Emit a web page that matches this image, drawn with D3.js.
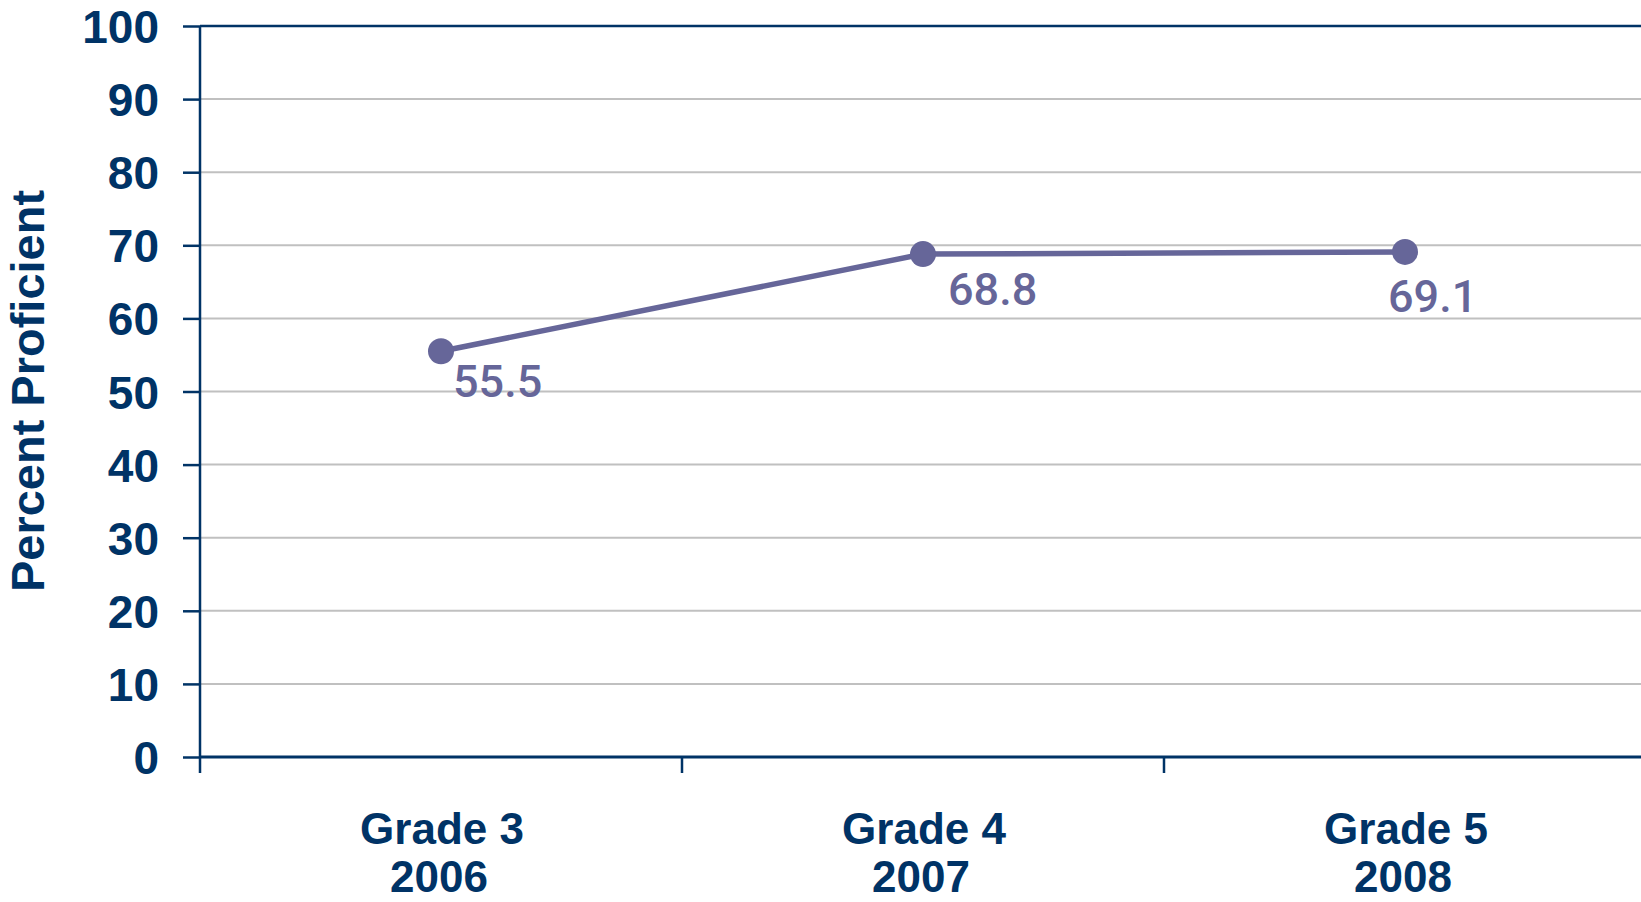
<!DOCTYPE html>
<html>
<head>
<meta charset="utf-8">
<script src="https://cdn.jsdelivr.net/npm/d3@7"></script>
<style>
  html, body { margin: 0; padding: 0; background: #fff; }
  svg { display: block; }
</style>
</head>
<body>
<svg id="chart" width="1641" height="902"></svg>
<script>
// ---- data ----
const gradeLabels = ["Grade 3", "Grade 4", "Grade 5"];
const yearLabels = ["2006", "2007", "2008"];
const values = [55.5, 68.8, 69.1];
const yTicks = [0, 10, 20, 30, 40, 50, 60, 70, 80, 90, 100];
const yTitle = "Percent Proficient";
// label nudges (px) relative to each point
const labelDx = [12, 25, -17];
const labelDy = [46, 51, 60];

// ---- styles ----
const navy = "#003366";
const lineColor = "#666699";
const gridColor = "#c0c0c0";

const svg = d3.select("#chart");
const plotLeft = 200, plotRight = 1646, plotTop = 26, plotBottom = 757;

const x = d3.scaleBand().domain(gradeLabels).range([plotLeft, plotRight]).paddingInner(0).paddingOuter(0);
const y = d3.scaleLinear().domain([0, 100]).range([plotBottom, plotTop]);

// gridlines
svg.append("g").selectAll("line").data(yTicks.filter(d => d > 0 && d < 100)).join("line")
  .attr("x1", plotLeft).attr("x2", 1641)
  .attr("y1", d => y(d)).attr("y2", d => y(d))
  .attr("stroke", gridColor).attr("stroke-width", 2);

// top border
svg.append("line").attr("x1", plotLeft).attr("x2", 1641).attr("y1", y(100)).attr("y2", y(100))
  .attr("stroke", navy).attr("stroke-width", 2.5);

// y axis
const yAxis = d3.axisLeft(y).tickValues(yTicks).tickSize(17).tickPadding(24).tickFormat(d3.format("d"));
const gy = svg.append("g").attr("transform", `translate(${plotLeft},0)`).call(yAxis);
gy.select(".domain").remove();
gy.selectAll(".tick line").attr("stroke", navy).attr("stroke-width", 2.5);
gy.selectAll(".tick text")
  .attr("fill", navy)
  .attr("font-family", "'Liberation Sans', Arial, sans-serif")
  .attr("font-weight", "bold")
  .attr("font-size", 46)
  .attr("dy", "0.36em");
svg.append("line").attr("x1", plotLeft).attr("x2", plotLeft).attr("y1", plotTop).attr("y2", plotBottom + 16)
  .attr("stroke", navy).attr("stroke-width", 2.5);

// x axis
svg.append("line").attr("x1", plotLeft).attr("x2", 1641).attr("y1", plotBottom).attr("y2", plotBottom)
  .attr("stroke", navy).attr("stroke-width", 3);
svg.append("g").selectAll("line").data(gradeLabels.slice(1)).join("line")
  .attr("x1", d => x(d)).attr("x2", d => x(d))
  .attr("y1", plotBottom).attr("y2", plotBottom + 16)
  .attr("stroke", navy).attr("stroke-width", 2.5);

const xFont = (sel) => sel
  .attr("text-anchor", "middle")
  .attr("fill", navy)
  .attr("font-family", "'Liberation Sans', Arial, sans-serif")
  .attr("font-weight", "bold")
  .attr("font-size", 44);

svg.append("g").selectAll("text").data(gradeLabels).join("text")
  .attr("x", d => x(d) + x.bandwidth() / 2 + 1)
  .attr("y", 844)
  .call(xFont)
  .text(d => d);

svg.append("g").selectAll("text").data(gradeLabels).join("text")
  .attr("x", d => x(d) + x.bandwidth() / 2 - 2)
  .attr("y", 892)
  .call(xFont)
  .text((d, i) => yearLabels[i]);

// y title
svg.append("text")
  .attr("transform", `translate(44,391) rotate(-90)`)
  .attr("text-anchor", "middle")
  .attr("fill", navy)
  .attr("font-family", "'Liberation Sans', Arial, sans-serif")
  .attr("font-weight", "bold")
  .attr("font-size", 47)
  .text(yTitle);

// line
const cx = (d, i) => x(gradeLabels[i]) + x.bandwidth() / 2;
const line = d3.line().x((d, i) => cx(d, i)).y(d => y(d));
svg.append("path").datum(values)
  .attr("d", line)
  .attr("fill", "none")
  .attr("stroke", lineColor)
  .attr("stroke-width", 5.5);

svg.append("g").selectAll("circle").data(values).join("circle")
  .attr("cx", cx).attr("cy", d => y(d)).attr("r", 13)
  .attr("fill", lineColor);

svg.append("g").selectAll("text").data(values).join("text")
  .attr("x", (d, i) => cx(d, i) + labelDx[i])
  .attr("y", (d, i) => y(d) + labelDy[i])
  .attr("fill", lineColor)
  .attr("font-family", "Roboto, sans-serif")
  .attr("font-weight", 500)
  .attr("font-size", 45)
  .text(d => d3.format(".1f")(d));
</script>
</body>
</html>
